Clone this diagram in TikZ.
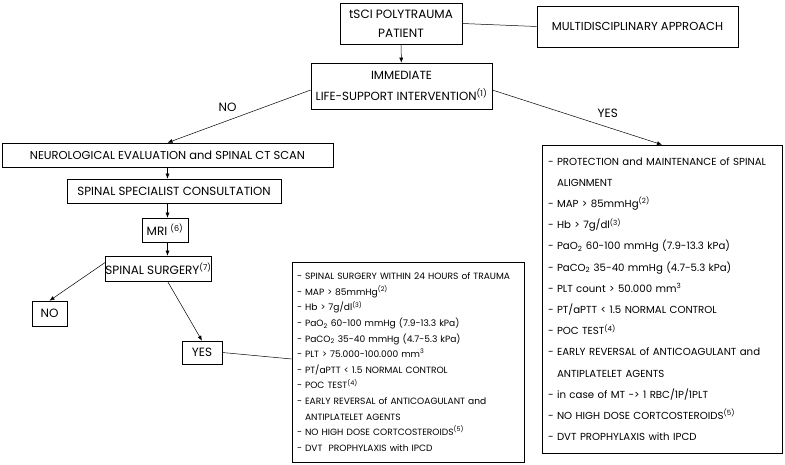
\documentclass[tikz,border=0pt]{standalone}
\usepackage{fontspec}
\setmainfont{Poppins}
\usetikzlibrary{arrows.meta}
\newcommand{\refmark}[1]{\textsuperscript{(#1)}}
\begin{document}
\begin{tikzpicture}[x = 1pt, y = -1pt,
    box/.style  = {draw, line width = 0.6pt, inner sep = 0pt, align = center,
                   font = \fontsize{12}{19}\selectfont},
    list/.style = {draw, line width = 0.6pt, inner xsep = 6pt, inner ysep = 0pt, align = left},
    link/.style = {line width = 0.5pt, -{Latex[length = 5pt, width = 4pt]}},
    answer/.style = {anchor = south, font = \fontsize{12}{14}\selectfont}]
  \useasboundingbox (0, 0) rectangle (785, 465);

  \node[box, minimum width = 122pt, minimum height = 41pt] at (401,   23.5) (patient)   {tSCI POLYTRAUMA\\PATIENT};
  \node[box, minimum width = 201pt, minimum height = 41pt,
        font = \fontsize{11.6}{14}\selectfont]           at (637.5, 26.5) (multi)     {MULTIDISCIPLINARY APPROACH};
  \node[box, minimum width = 181pt, minimum height = 46pt,
        font = \fontsize{11.8}{21}\selectfont]           at (401.5, 86)   (immediate) {IMMEDIATE\\LIFE-SUPPORT INTERVENTION\refmark{1}};
  \node[box, minimum width = 331pt, minimum height = 24pt,
        font = \fontsize{11.5}{14}\selectfont]           at (167.5, 155)  (neuro)     {NEUROLOGICAL EVALUATION and SPINAL CT SCAN};
  \node[box, minimum width = 214pt, minimum height = 24pt,
        font = \fontsize{11.8}{14}\selectfont]           at (174,   191)  (spec)      {SPINAL SPECIALIST CONSULTATION};
  \node[box, minimum width = 46pt,  minimum height = 24pt] at (165,   230)  (mri)       {MRI \refmark{6}};
  \node[box, minimum width = 101pt, minimum height = 25pt] at (158.5, 268.5) (surgery)  {SPINAL SURGERY\refmark{7}};
  \node[box, minimum width = 35pt,  minimum height = 25pt] at (49.5,  313.5) (no)       {NO};
  \node[box, minimum width = 40pt,  minimum height = 23pt] at (202,   352.5) (yes)      {YES};

  % criteria after early surgery
  \node[list, inner xsep = 5pt, text width = 222pt, minimum height = 200pt,
        font = \fontsize{9.1}{15.6}\selectfont] at (408, 362) (early) {%
    - SPINAL SURGERY WITHIN 24 HOURS of TRAUMA\\
    - MAP > 85mmHg\refmark{2}\\
    - Hb > 7g/dl\refmark{3}\\
    - PaO\textsubscript{2} 60-100 mmHg (7.9-13.3 kPa)\\
    - PaCO\textsubscript{2} 35-40 mmHg (4.7-5.3 kPa)\\
    - PLT > 75.000-100.000 mm\textsuperscript{3}\\
    - PT/aPTT < 1.5 NORMAL CONTROL\\
    - POC TEST\refmark{4}\\
    - EARLY REVERSAL of ANTICOAGULANT and\\
    \hphantom{- }ANTIPLATELET AGENTS\\
    - NO HIGH DOSE CORTCOSTEROIDS\refmark{5}\\
    - DVT\ \ PROPHYLAXIS with IPCD};

  % criteria during life support
  \node[list, text width = 228pt, minimum height = 308pt,
        font = \fontsize{10.2}{21.2}\selectfont] at (662, 299) (support) {%
    - PROTECTION and MAINTENANCE of SPINAL\\
    \hphantom{- }ALIGNMENT\\
    - MAP > 85mmHg\refmark{2}\\
    - Hb > 7g/dl\refmark{3}\\
    - PaO\textsubscript{2} 60-100 mmHg (7.9-13.3 kPa)\\
    - PaCO\textsubscript{2} 35-40 mmHg (4.7-5.3 kPa)\\
    - PLT count > 50.000 mm\textsuperscript{3}\\
    - PT/aPTT < 1.5 NORMAL CONTROL\\
    - POC TEST\refmark{4}\\
    - EARLY REVERSAL of ANTICOAGULANT and\\
    \hphantom{- }ANTIPLATELET AGENTS\\
    - in case of MT -> 1 RBC/1P/1PLT\\
    - NO HIGH DOSE CORTCOSTEROIDS\refmark{5}\\
    - DVT PROPHYLAXIS with IPCD};

  \draw[line width = 0.5pt] (patient.east) -- (multi.west);
  \draw[link] (patient) -- (immediate);
  \draw[link] ([yshift = -4pt]immediate.west) -- node[answer, pos = 0.58, yshift = 5pt] {NO} (neuro.north);
  \draw[link] ([yshift = -4pt]immediate.east) -- node[answer, pos = 0.68, yshift = 6.5pt] {YES} (support.north);
  \draw[link] (neuro.south) -- (neuro.south |- spec.north);
  \draw[link] (spec.south -| neuro.south) -- (neuro.south |- mri.north);
  \draw[link] (mri.south -| neuro.south) -- (neuro.south |- surgery.north);
  \draw[link] ([yshift = 6pt]surgery.west) -- (no.north);
  \draw[link] (surgery.south -| neuro.south) -- (yes.north);
  \draw[line width = 0.5pt] (yes.east) -- ([yshift = 3pt]early.west);
\end{tikzpicture}
\end{document}
